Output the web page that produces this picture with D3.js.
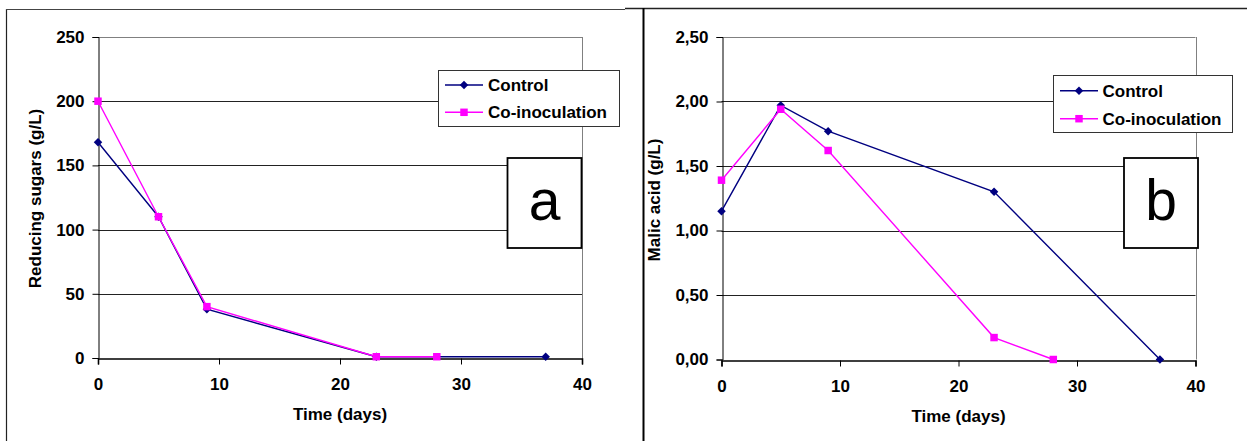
<!DOCTYPE html>
<html>
<head>
<meta charset="utf-8">
<script src="https://cdn.jsdelivr.net/npm/d3@7"></script>
<style>
  html, body { margin: 0; padding: 0; background: #fff; }
  svg { display: block; font-family: "Liberation Sans", Arial, sans-serif; }
</style>
</head>
<body>
<svg id="chart" width="1247" height="441"></svg>
<script>
// ---- data ----
const seriesNames = ["Control", "Co-inoculation"];
const seriesColors = ["#000080", "#FF00FF"];
const xTicks = [0, 10, 20, 30, 40];

const sugarControlDays = [0, 5, 9, 23, 37];
const sugarControl = [168, 110, 38, 1, 1];
const sugarCoDays = [0, 5, 9, 23, 28];
const sugarCo = [200, 110, 40, 1, 1];
const sugarTicks = [0, 50, 100, 150, 200, 250];

const malicControlDays = [0, 5, 9, 23, 37];
const malicControl = [1.15, 1.97, 1.77, 1.30, 0.00];
const malicCoDays = [0, 5, 9, 23, 28];
const malicCo = [1.39, 1.94, 1.62, 0.17, 0.00];
const malicTicks = [0, 0.5, 1, 1.5, 2, 2.5];

const svg = d3.select("#chart");
const commaFmt = d3.formatLocale({decimal: ",", thousands: ".", grouping: [3], currency: ["", ""]}).format(".2f");

// ---- outer frame ----
svg.append("line").attr("x1", 6.5).attr("x2", 6.5).attr("y1", 9).attr("y2", 441).attr("stroke", "#222").attr("stroke-width", 1.2);
svg.append("line").attr("x1", 6).attr("x2", 625).attr("y1", 9.5).attr("y2", 9.5).attr("stroke", "#444").attr("stroke-width", 1);
svg.append("line").attr("x1", 625).attr("x2", 1247).attr("y1", 8.5).attr("y2", 8.5).attr("stroke", "#222").attr("stroke-width", 1.6);
svg.append("line").attr("x1", 643.5).attr("x2", 643.5).attr("y1", 8).attr("y2", 441).attr("stroke", "#000").attr("stroke-width", 2);

function panel(cfg) {
  const g = svg.append("g");
  const x = d3.scaleLinear().domain([0, 40]).range([cfg.left, cfg.right]);
  const y = d3.scaleLinear().domain([0, cfg.yMax]).range([cfg.bottom, cfg.top]);

  // gridlines
  g.selectAll(".grid").data(cfg.yTicks.filter(t => t > 0 && t < cfg.yMax)).enter()
    .append("line")
    .attr("x1", cfg.left).attr("x2", cfg.right)
    .attr("y1", d => Math.round(y(d)) + 0.5).attr("y2", d => Math.round(y(d)) + 0.5)
    .attr("stroke", "#222").attr("stroke-width", 1);

  // plot area border (top/right gray)
  g.append("line").attr("x1", cfg.left).attr("x2", cfg.right)
    .attr("y1", Math.round(y(cfg.yMax)) + 0.5).attr("y2", Math.round(y(cfg.yMax)) + 0.5)
    .attr("stroke", "#808080");
  g.append("line").attr("x1", Math.round(cfg.right) + 0.5).attr("x2", Math.round(cfg.right) + 0.5)
    .attr("y1", cfg.top).attr("y2", cfg.bottom)
    .attr("stroke", "#808080");

  // axes
  const yAxis = d3.axisLeft(y).tickValues(cfg.yTicks).tickSize(6).tickPadding(8).tickFormat(cfg.yFmt);
  const ya = g.append("g").attr("transform", `translate(${Math.round(cfg.left) + 0.5},0)`).call(yAxis);
  const xAxis = d3.axisBottom(x).tickValues(xTicks).tickSize(6).tickPadding(13).tickFormat(d3.format("d"));
  const xa = g.append("g").attr("transform", `translate(0,${Math.round(cfg.bottom) + 0.5})`).call(xAxis);
  [ya, xa].forEach(a => {
    a.select(".domain").attr("stroke", "#000");
    a.selectAll(".tick line").attr("stroke", "#000");
    a.selectAll("text").attr("font-size", 17).attr("font-weight", "bold").attr("fill", "#000")
      .attr("font-family", "'Liberation Sans', Arial, sans-serif");
  });
  xa.select(".domain").attr("stroke-width", 1.6);

  // axis titles
  g.append("text").attr("transform", `translate(${cfg.yTitleX},${cfg.yTitleY}) rotate(-90)`)
    .attr("text-anchor", "middle").attr("font-size", 17).attr("font-weight", "bold").text(cfg.yTitle);
  g.append("text").attr("x", (cfg.left + cfg.right) / 2).attr("y", cfg.xTitleY)
    .attr("text-anchor", "middle").attr("font-size", 17).attr("font-weight", "bold").text("Time (days)");

  // series
  const diamond = d3.symbol(d3.symbolSquare, 36);
  const square = d3.symbol(d3.symbolSquare, 56);
  const series = [
    {days: cfg.cDays, vals: cfg.cVals, color: seriesColors[0], sym: "d"},
    {days: cfg.pDays, vals: cfg.pVals, color: seriesColors[1], sym: "s"}
  ];
  const line = d3.line().x(d => x(d[0])).y(d => y(d[1]));
  series.forEach(s => {
    const pts = s.days.map((d, i) => [d, s.vals[i]]);
    g.append("path").datum(pts).attr("d", line).attr("fill", "none")
      .attr("stroke", s.color).attr("stroke-width", 1.4);
    g.selectAll(null).data(pts).enter().append("path")
      .attr("d", s.sym === "d" ? diamond : square)
      .attr("transform", d => `translate(${x(d[0])},${y(d[1])})` + (s.sym === "d" ? " rotate(45)" : ""))
      .attr("fill", s.color);
  });

  // legend
  const L = cfg.legend;
  g.append("rect").attr("x", L.x + 0.5).attr("y", L.y + 0.5).attr("width", L.w).attr("height", L.h)
    .attr("fill", "#fff").attr("stroke", "#333").attr("stroke-width", 1);
  seriesNames.forEach((name, i) => {
    const cy = L.rows[i];
    g.append("line").attr("x1", L.lx1).attr("x2", L.lx2).attr("y1", cy).attr("y2", cy)
      .attr("stroke", seriesColors[i]).attr("stroke-width", 1.4);
    g.append("path").attr("d", i === 0 ? diamond : square)
      .attr("transform", `translate(${(L.lx1 + L.lx2) / 2},${cy})` + (i === 0 ? " rotate(45)" : ""))
      .attr("fill", seriesColors[i]);
    g.append("text").attr("x", L.tx).attr("y", cy + 6).attr("font-size", 17).attr("font-weight", "bold").text(name);
  });

  // panel label box
  const B = cfg.box;
  g.append("rect").attr("x", B.x).attr("y", B.y).attr("width", B.w).attr("height", B.h)
    .attr("fill", "#fff").attr("stroke", "#000").attr("stroke-width", 1.8);
  g.append("text").attr("x", B.x + B.w / 2).attr("y", B.baseline).attr("text-anchor", "middle")
    .attr("font-size", 57).attr("font-family", "'Liberation Sans', Arial, sans-serif").text(B.label);
}

panel({
  left: 98, right: 582, top: 37, bottom: 358, yMax: 250,
  yTicks: sugarTicks, yFmt: d3.format("d"),
  yTitle: "Reducing sugars (g/L)", yTitleX: 40.5, yTitleY: 198.5, xTitleY: 419.5,
  cDays: sugarControlDays, cVals: sugarControl, pDays: sugarCoDays, pVals: sugarCo,
  legend: {x: 438, y: 70, w: 181, h: 56, rows: [85, 112.3], lx1: 445, lx2: 483, tx: 488},
  box: {x: 507.5, y: 158, w: 74, h: 90, baseline: 220, label: "a"}
});

panel({
  left: 721.5, right: 1195.5, top: 37, bottom: 359.5, yMax: 2.5,
  yTicks: malicTicks, yFmt: commaFmt,
  yTitle: "Malic acid (g/L)", yTitleX: 659.5, yTitleY: 200, xTitleY: 421.5,
  cDays: malicControlDays, cVals: malicControl, pDays: malicCoDays, pVals: malicCo,
  legend: {x: 1053, y: 75, w: 179, h: 57, rows: [90.7, 118.7], lx1: 1060, lx2: 1098, tx: 1102.5},
  box: {x: 1124, y: 158, w: 74, h: 90, baseline: 220, label: "b"}
});
</script>
</body>
</html>
